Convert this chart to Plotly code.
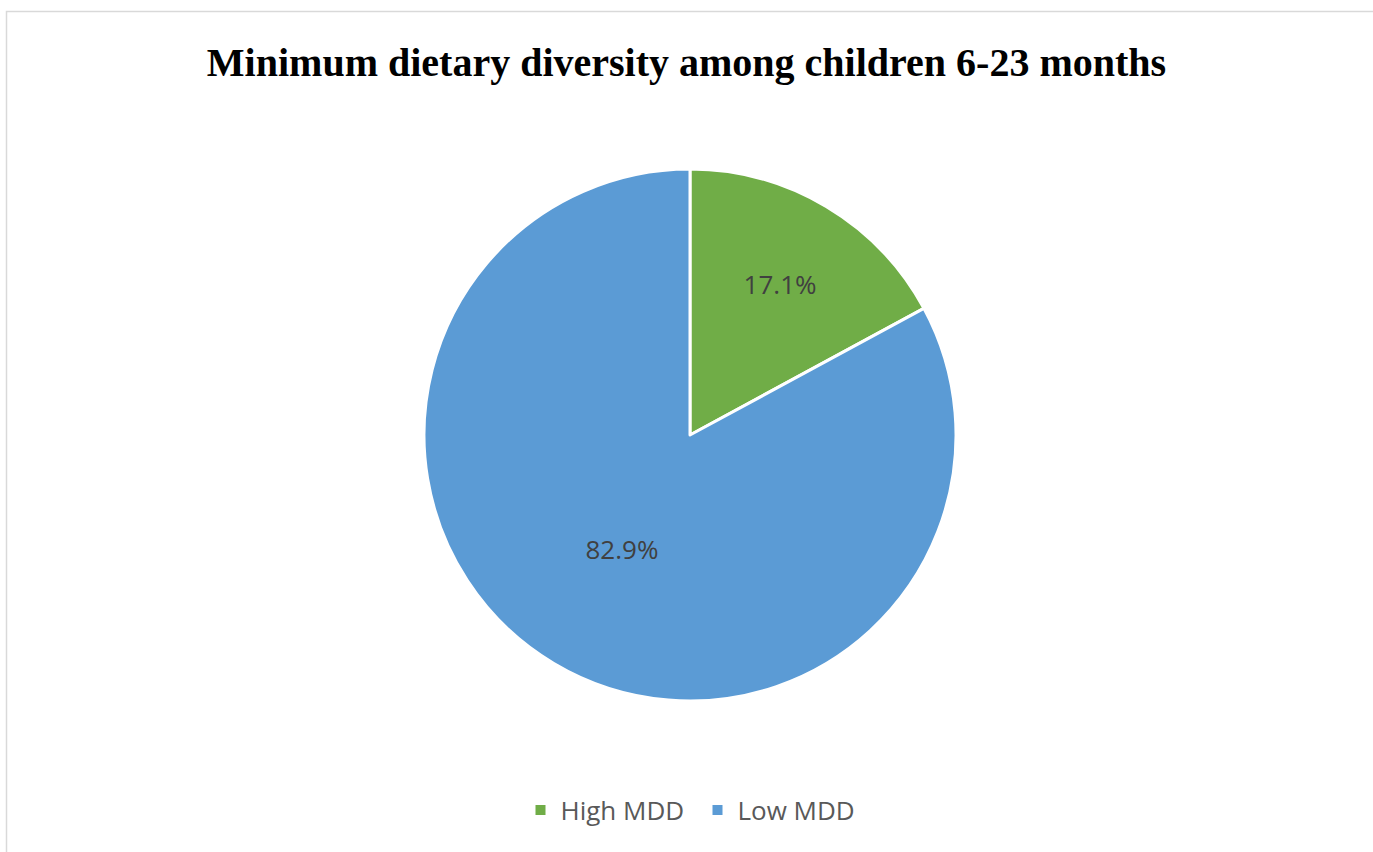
import plotly.graph_objects as go

# Share of children 6-23 months by minimum dietary diversity status
categories = ["High MDD", "Low MDD"]
shares = [17.1, 82.9]
slice_colors = ["#70AD47", "#5B9BD5"]

W, H = 1373, 852

fig = go.Figure(
    go.Pie(
        labels=categories,
        values=shares,
        sort=False,
        direction="clockwise",
        rotation=0,
        marker=dict(colors=slice_colors, line=dict(color="white", width=3)),
        textinfo="percent",
        texttemplate="%{value:.1f}%",
        textposition="inside",
        insidetextorientation="horizontal",
        textfont=dict(family="Open Sans, Lato, sans-serif", size=26, color="#404040"),
        domain=dict(x=[424 / W, 956 / W], y=[(H - 701) / H, (H - 169) / H]),
        hoverinfo="label+percent",
    )
)

fig.update_layout(
    width=W,
    height=H,
    margin=dict(l=0, r=0, t=0, b=0),
    paper_bgcolor="white",
    plot_bgcolor="white",
    title=dict(
        text="<b>Minimum dietary diversity among children 6-23 months</b>",
        x=0.5,
        xanchor="center",
        y=1 - 62 / H,
        yanchor="middle",
        font=dict(family="Liberation Serif, Times New Roman, serif", size=40, color="black"),
    ),
    showlegend=True,
    legend=dict(
        orientation="h",
        x=0.5 + 11 / W,
        xanchor="center",
        y=1 - 810 / H,
        yanchor="middle",
        font=dict(family="Open Sans, Lato, sans-serif", size=26, color="#595959"),
        itemsizing="constant",
        itemwidth=30,
        entrywidth=132,
        entrywidthmode="pixels",
    ),
    shapes=[
        dict(
            type="rect",
            xref="paper",
            yref="paper",
            x0=6.5 / W,
            x1=1.05,
            y0=-0.05,
            y1=1 - 11.5 / H,
            line=dict(color="#D9D9D9", width=1.5),
            fillcolor="rgba(0,0,0,0)",
            layer="below",
        )
    ],
)

fig.write_html("out.html")
